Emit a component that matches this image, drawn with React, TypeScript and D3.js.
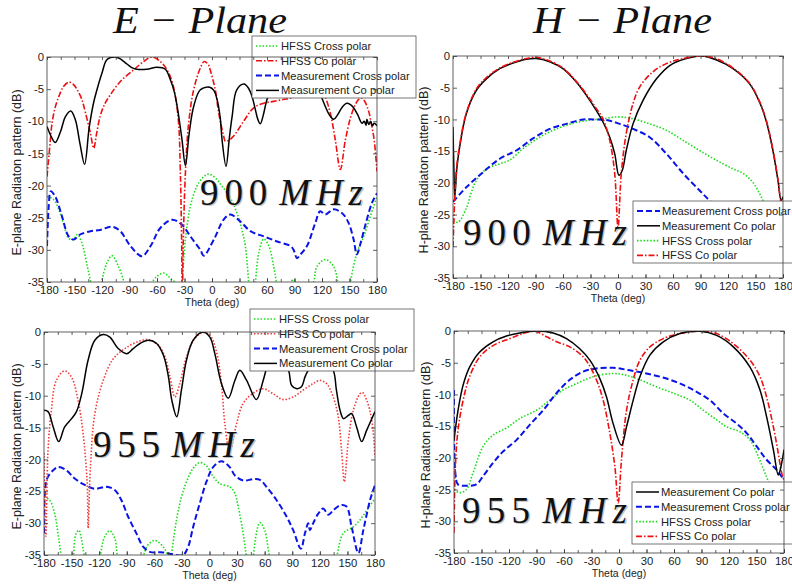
import React, { useEffect, useRef } from "react";
import * as d3 from "d3";

type Pt = [number, number];

const thetaTicks = d3.range(-180, 181, 30);
const thetaMinor = d3.range(-180, 181, 15);
const dbTicks = [0, -5, -10, -15, -20, -25, -30, -35];

// E-plane, 900 MHz
const e900HfssCross: Pt[] = [
  [-180, -21.7], [-172.7, -22.2], [-165.5, -24.3], [-160, -26.9], [-156.4, -28.2], [-151, -28.4],
  [-147, -27.6], [-142, -28.9], [-136, -32.6], [-131, -36], [-127, -40], [-122, -36], [-118, -33.5],
  [-114.5, -32], [-109, -30.9], [-102, -32.6], [-97, -34.5], [-94.5, -36], [-80, -40], [-67, -35.5],
  [-60, -34.1], [-52.7, -33.6], [-45.5, -34.4], [-38, -35.5], [-35, -38], [-32.7, -35], [-29, -28.4],
  [-23.6, -23.2], [-16.4, -20.1], [-9, -18.6], [-3.6, -18.2], [3.6, -18.8], [11, -20.1], [20, -21.9],
  [27.3, -24.3], [32.7, -26.9], [36.4, -29.4], [40, -35], [43, -40], [47.3, -35], [51, -30.5],
  [56.4, -28.3], [62, -29.4], [67.3, -32.6], [71, -35.5], [78, -40], [85.5, -35.2], [89, -34.6],
  [92, -35.5], [100, -40], [111, -35], [114.5, -32.6], [123.6, -31.5], [132.7, -32.6], [138, -35.5],
  [145, -40], [151, -35], [158, -30.5], [165.5, -27.9], [172.7, -24.8], [180, -21.7],
];
const e900HfssCo: Pt[] = [
  [-180, -18.6], [-177, -14], [-174.5, -10.3], [-171, -7.8], [-167, -6.1], [-162, -4.6], [-156, -3.9],
  [-151, -4.3], [-147, -5.1], [-142, -6.6], [-138, -8.7], [-132.7, -11.8], [-129, -14.2], [-126, -12],
  [-122, -9.2], [-117, -7.3], [-111, -5.9], [-100, -3.8], [-85.5, -2], [-74.5, -0.7], [-65.5, 0],
  [-56.4, -0.7], [-49, -2], [-43.6, -3.8], [-40, -6.1], [-36.4, -10.3], [-34.5, -18], [-33, -30],
  [-32.5, -40], [-31.5, -30], [-29, -18], [-25.5, -10.3], [-20, -5.1], [-12.7, -1.7], [-8.4, -0.7],
  [-4, -1.2], [-2, -2], [3.6, -5.1], [7.3, -8.7], [12.7, -12.3], [14.5, -13.1], [18, -13], [23.6, -12.3],
  [34.5, -10], [45.5, -7.9], [56.4, -7.2], [67.3, -6.9], [78, -6.6], [85.5, -6.4], [96, -5.5], [105, -4.5],
  [115, -4.5], [122, -5.75], [129, -8.7], [134.5, -12.9], [140, -17.5], [145.5, -12.9], [151, -9.5],
  [156, -7.5], [160, -6.6], [163.6, -6.4], [167, -7], [171, -8.5], [174, -10.5], [177, -13], [180, -17.8],
];
const e900MeasCross: Pt[] = [
  [-180, -29.4], [-178, -23], [-176, -20.9], [-171, -21.7], [-163.6, -24.8], [-156.4, -27.9], [-151, -28.4],
  [-143.6, -27.6], [-132.7, -27.1], [-122, -26.9], [-109, -26.4], [-100, -27.1], [-89, -29.4], [-76.4, -31],
  [-67, -29.4], [-56.4, -26.6], [-43.6, -25.3], [-32.7, -26.1], [-23.6, -27.9], [-12.7, -30], [-9, -30.9],
  [2, -28.4], [12.7, -25.3], [20, -24.5], [31, -25.6], [42, -27.1], [56.4, -27.9], [71, -28.7], [85.5, -29.4],
  [89, -30], [92.7, -31.3], [96, -30.8], [103.6, -29.4], [112.7, -25.8], [118, -24], [123.6, -24.5],
  [132.7, -23.7], [142, -24.3], [149, -25.8], [154.5, -28.4], [158, -30.7], [162, -29], [167, -26.3],
  [174.5, -22.7], [180, -21.2],
];
const e900MeasCo: Pt[] = [
  [-180, -10.8], [-175, -12.5], [-171, -13.3], [-165, -11.5], [-160, -9.3], [-154, -8.4], [-149, -9.8],
  [-144, -13.5], [-139, -16.7], [-134, -11], [-129, -7], [-125.5, -5.1], [-120, -2.5], [-114.5, -0.4],
  [-105.5, 0], [-100, -0.3], [-94.5, -0.9], [-88, -1.6], [-82, -1.9], [-71, -1.9], [-60, -1.6], [-51, -1.9],
  [-45.5, -3.5], [-41, -5.5], [-38, -7.7], [-35, -10.5], [-32.7, -12.9], [-29, -16.9], [-25, -12], [-20, -7.7],
  [-12.7, -5.1], [-2.5, -4.7], [2, -5.2], [5.5, -6.6], [9, -9.5], [11, -12.9], [15.3, -17], [19, -12.5],
  [22, -9.2], [27, -5.1], [35, -4.2], [40, -4.9], [43.6, -6.1], [47, -8], [50, -9.7], [52.7, -10.4], [56, -9],
  [60, -6.6], [65, -5], [75, -3], [90, -1.5], [105, -2], [112, -3.5], [118, -5.7], [123.6, -7.7], [128, -9],
  [132.7, -9.7], [137, -9], [142, -7.8], [147, -7.2], [151, -7.4], [154.5, -7.9], [159, -9], [163.6, -10.3],
  [166, -10], [168, -10.6], [169, -9.7], [171, -10.5], [173, -10], [175, -10.7], [177, -10.3], [180, -10.7],
];

// H-plane, 900 MHz
const h900MeasCross: Pt[] = [
  [-180, -23], [-165.5, -20.7], [-147, -18.3], [-129, -16.2], [-111, -14.9], [-92.7, -13], [-74.5, -11.5],
  [-56.4, -10.7], [-38, -10], [-27.3, -10], [-12.7, -10.1], [1.8, -10.7], [16.4, -11.5], [34.5, -12.8],
  [52.7, -15.4], [71, -18.5], [89, -21.2], [100, -22.8], [120, -25.5], [150, -28.5], [180, -31],
];
const h900MeasCo: Pt[] = [
  [-180, -11.2], [-179, -18], [-178, -22.2], [-176, -18], [-172.7, -14.3], [-165.5, -9.1], [-154.5, -5.4],
  [-143.6, -3.6], [-129, -2], [-114.5, -1.1], [-100, -0.5], [-89, -0.4], [-74.5, -0.9], [-60, -2],
  [-45.5, -4.1], [-34.5, -6.2], [-23.6, -8.6], [-16.4, -10.4], [-9, -12.8], [-3.6, -15.4], [1, -18.8],
  [4.7, -18], [9, -14.9], [16.4, -10.7], [27.3, -7], [42, -3.6], [56.4, -1.5], [74.5, -0.4], [91, 0],
  [107, -0.6], [125.5, -2], [143.6, -4.4], [154.5, -7.3], [162, -10.4], [169, -14.9], [174.5, -19.6],
  [178, -22.8], [180, -22.2],
];
const h900HfssCross: Pt[] = [
  [-180, -26], [-174.5, -26.2], [-165.5, -24], [-160, -21.5], [-154.5, -19.6], [-143.6, -17.8], [-129, -17],
  [-118, -16.4], [-103.6, -14.6], [-85.5, -12.8], [-67.3, -11.5], [-49, -10.6], [-31, -10.1], [-16.4, -9.9],
  [0, -9.6], [16.4, -9.9], [34.5, -10.7], [52.7, -11.7], [71, -13.3], [89, -14.9], [107, -16.4],
  [125.5, -17.8], [136.4, -18.5], [147, -19.9], [154.5, -21.7], [160, -23.3], [170, -26], [180, -28],
];
const h900HfssCo: Pt[] = [
  [-180, -30.1], [-178, -22.2], [-176, -17.5], [-172.7, -14], [-165.5, -9], [-154.5, -5.2], [-143.6, -3.4],
  [-129, -1.9], [-114.5, -1], [-100, -0.4], [-89, -0.2], [-74.5, -0.8], [-60, -1.9], [-45.5, -4], [-34.5, -6],
  [-23.6, -8.3], [-16.4, -9.9], [-9, -13.3], [-3.6, -18.5], [0, -27], [3.6, -18.5], [9, -12.2], [16.4, -7.5],
  [23.6, -4.9], [38, -2.5], [52.7, -1.2], [70.9, -0.4], [91, 0], [107, -0.4], [125.5, -1.9], [143.6, -4.3],
  [154.5, -7.2], [162, -10.3], [169, -14.8], [174.5, -19.5], [177, -22.5], [180, -25],
];

// E-plane, 955 MHz
const e955HfssCross: Pt[] = [
  [-180, -25.9], [-173.8, -26.4], [-168.4, -28.5], [-164.8, -31.6], [-161, -35.5], [-155, -40],
  [-148.4, -35.5], [-145.5, -31.8], [-142, -31.1], [-139.4, -32.4], [-135.7, -35.5], [-128, -40],
  [-119.4, -35.5], [-114, -32.1], [-108.5, -31.2], [-103, -32.4], [-99.4, -35.5], [-85, -40], [-72.2, -35.2],
  [-66.8, -33.4], [-59.5, -32.7], [-50.5, -33.7], [-45, -35.2], [-43, -37], [-41.4, -35], [-35.9, -29.5],
  [-30.5, -25.9], [-25, -23.5], [-17.8, -21.4], [-10.6, -20.5], [-3.3, -21], [4, -22.7], [11.2, -23.8],
  [22, -24.3], [27.5, -25.3], [31.2, -27.4], [36.6, -31.6], [40.3, -35.5], [44, -40], [47.5, -35.5],
  [51, -31.6], [54.8, -29.9], [60, -31.1], [65.7, -35.5], [75, -40], [130, -40], [138, -35.5],
  [145.5, -31.6], [156.4, -30.6], [163.6, -29.5], [171, -28], [180, -26.1],
];
const e955HfssCo: Pt[] = [
  [-180, -19], [-178, -32.1], [-175.6, -18.5], [-172, -12.3], [-166.6, -7.6], [-157.5, -6.1], [-150, -7.1],
  [-143, -10.7], [-137.5, -15.9], [-133, -23.8], [-132, -30.8], [-129.5, -21.2], [-124.7, -12.8],
  [-115.6, -7.6], [-104.6, -4.2], [-90, -2.4], [-75.6, -1.4], [-66.5, -1.2], [-55.6, -2.1], [-48.4, -3.9],
  [-43, -7], [-37.7, -10.2], [-32.3, -8.1], [-25, -3.9], [-16, -1], [-7, -0.1], [0.4, -0.5], [7.6, -3.1],
  [13, -8.1], [16.7, -14.4], [22, -18.8], [29.4, -14.4], [36.6, -11.2], [47.5, -9.6], [58.4, -8.9],
  [69.3, -9.7], [80, -10.6], [91, -10.2], [102, -9.1], [112.8, -8.1], [120, -7.6], [127.3, -8.1],
  [134.6, -10.2], [140, -13.3], [143.6, -18.5], [146.6, -23.5], [151, -17], [156.4, -12.3], [163.6, -9.7],
  [166.5, -9.5], [171, -10.7], [176.5, -13.8], [180, -19.6],
];
const e955MeasCross: Pt[] = [
  [-180, -31.6], [-178.5, -24.3], [-175.6, -22.7], [-170, -21.7], [-164.8, -21.2], [-155.7, -21.7],
  [-146.6, -23], [-135.7, -24], [-124.7, -24.6], [-112, -24.3], [-103, -24.8], [-95.8, -26.4], [-88.5, -29],
  [-79.5, -31.6], [-72.2, -33.7], [-65, -34.5], [-50.5, -34.6], [-39.6, -34.9], [-28.7, -35], [-23.2, -33.7],
  [-17.8, -30.6], [-10.6, -26.9], [-3.3, -23.5], [4, -21.2], [13, -20.3], [22, -21.2], [27.5, -22.5],
  [36.6, -23.3], [47.5, -23.1], [54.8, -23.2], [62, -24.3], [73, -26.4], [84, -29], [91, -31.1], [99.4, -34],
  [103.8, -31.6], [107.4, -30], [109.2, -31.1], [112.8, -30], [118.3, -28.5], [123.7, -27.7], [129.2, -28.7],
  [134.6, -28], [142, -27.2], [149, -27.4], [154.6, -30.6], [161.9, -34.7], [167.3, -31.1], [174.6, -26.4],
  [180, -24],
];
const e955MeasCo: Pt[] = [
  [-180, -12.3], [-175.6, -12.5], [-170, -14.9], [-164, -17.2], [-157.5, -14.9], [-150, -13.6],
  [-144.7, -12.5], [-139, -9.7], [-132, -4.4], [-124.7, -1.3], [-115.6, -0.4], [-108.4, -0.8], [-99.3, -2.6],
  [-90, -3.4], [-83, -2.6], [-75.6, -1.8], [-66.5, -1.3], [-57.5, -1.8], [-50, -3.7], [-44.7, -7],
  [-41, -10.7], [-35.6, -13.3], [-30.5, -9.1], [-25, -4.4], [-17.8, -1.3], [-7, 0], [0.4, -0.8], [5.8, -3.4],
  [13, -8.1], [20.4, -10.4], [27.6, -7.6], [33, -6], [40.4, -7.6], [51, -10.6], [58.4, -7.6], [64, -5],
  [75, -3], [86, -6], [89.4, -8.4], [95, -8.9], [100, -8.6], [104, -7], [107.4, -6], [120, -3], [134.6, -6],
  [138, -9.1], [142, -12.3], [145.7, -13.6], [151, -13.1], [154.5, -12.8], [160, -14.9], [165.5, -17.2],
  [171, -15.4], [180, -12.5],
];

// H-plane, 955 MHz
const h955MeasCo: Pt[] = [
  [-180, -17.2], [-175.6, -12.5], [-170, -8.5], [-163, -5.7], [-152, -3.3], [-137.4, -1.7], [-122.8, -0.8],
  [-108.3, -0.3], [-90, 0], [-71.8, -0.3], [-57.3, -1.2], [-42.8, -2.8], [-31.8, -4.6], [-20.9, -7.5],
  [-13.6, -10.4], [-6.4, -14.6], [2.7, -18], [8.2, -15.1], [15.5, -10.9], [22.8, -7.2], [33.7, -3.8],
  [48.3, -1.7], [66.5, -0.4], [88.3, -0.05], [106.5, -0.7], [124.7, -2.5], [142.9, -5.7], [153.8, -9.3],
  [161, -13.5], [168.4, -18.7], [173.8, -22.7], [177.5, -20.8], [180, -18.7],
];
const h955MeasCross: Pt[] = [
  [-180, -9.3], [-178.5, -22.4], [-175.6, -24.2], [-166.5, -24.4], [-155.6, -24.2], [-148.3, -22.9],
  [-137.4, -20.8], [-126.5, -19], [-112, -17.2], [-97.4, -14.8], [-82.8, -12.5], [-68.2, -9.8],
  [-53.7, -7.7], [-39.1, -6.4], [-24.6, -5.9], [-6.4, -5.8], [11.8, -6.2], [30, -6.7], [51.9, -7.5],
  [70, -8.5], [84.7, -9.6], [99.2, -10.9], [113.8, -13], [128.3, -14.6], [139.3, -16.1], [150.2, -18.2],
  [161, -20.3], [172, -21.9], [180, -23.5],
];
const h955HfssCross: Pt[] = [
  [-180, -25], [-173.8, -25.5], [-166.5, -25], [-159.3, -22.4], [-148.3, -18.2], [-137.4, -16.4],
  [-122.8, -15.3], [-108.3, -13.8], [-90, -12.5], [-75.5, -10.9], [-61, -9.3], [-46.4, -8.3], [-28.2, -7.2],
  [-6.4, -6.7], [8.2, -7], [22.8, -7.7], [41, -8.8], [59.2, -9.8], [77.4, -10.9], [92, -12.5], [106.5, -14],
  [117.4, -15.1], [132, -15.9], [143, -17.2], [152, -19.8], [159.3, -22.4], [170, -26], [180, -28],
];
const h955HfssCo: Pt[] = [
  [-180, -31.8], [-178.5, -21.4], [-175.6, -15.6], [-170, -10.9], [-163, -7.2], [-152, -4.1], [-137.4, -2.3],
  [-119.2, -1.2], [-104.6, -0.4], [-92, -0.05], [-79, -0.9], [-68, -1.7], [-53.7, -2.5], [-41, -3.8],
  [-33.7, -5.1], [-24.6, -7.7], [-17.3, -10.9], [-10, -16.1], [-4.5, -21.4], [-0.9, -27.1], [2.7, -20.3],
  [8.2, -12.5], [15.5, -7.7], [22.8, -4.6], [33.7, -2.5], [48.3, -1.2], [66.5, -0.4], [92, 0], [106.5, -0.4],
  [124.7, -2], [142.9, -4.6], [153.8, -7.2], [161, -10.4], [168.4, -15.1], [173.8, -19.3], [177.5, -22.4],
  [180, -23.5],
];

const styles: Record<string, { color: string; dash: string | null; width: number }> = {
  measCo: { color: "#000000", dash: null, width: 1.5 },
  measCross: { color: "#0a14e6", dash: "6,3", width: 2 },
  hfssCross: { color: "#19dd19", dash: "1.5,1.8", width: 1.6 },
  hfssCoDashDot: { color: "#ee1010", dash: "6,2,1.5,2", width: 1.6 },
  hfssCoDot: { color: "#f23a3a", dash: "1.5,1.8", width: 1.6 },
};

const labels: Record<string, string> = {
  measCo: "Measurement Co polar",
  measCross: "Measurement Cross polar",
  hfssCross: "HFSS Cross polar",
  hfssCoDashDot: "HFSS Co polar",
  hfssCoDot: "HFSS Co polar",
};

type Panel = {
  id: string;
  x0: number; x1: number; y0: number; y1: number;
  yLabel: string; yLabelX: number;
  freq: string; freqX: number; freqY: number; freqW: number;
  legend: { x: number; y: number; w: number; keys: string[] };
  series: { key: string; data: Pt[] }[];
};

const panels: Panel[] = [
  {
    id: "e900", x0: 47, x1: 377, y0: 57, y1: 282,
    yLabel: "E-plane Radiaton pattern (dB)", yLabelX: 21,
    freq: "900", freqX: 200, freqY: 205, freqW: 163,
    legend: { x: 252, y: 36, w: 164, keys: ["hfssCross", "hfssCoDashDot", "measCross", "measCo"] },
    series: [
      { key: "hfssCross", data: e900HfssCross },
      { key: "measCross", data: e900MeasCross },
      { key: "hfssCoDashDot", data: e900HfssCo },
      { key: "measCo", data: e900MeasCo },
    ],
  },
  {
    id: "h900", x0: 453, x1: 783, y0: 56, y1: 278,
    yLabel: "H-plane Radiaton pattern (dB)", yLabelX: 428,
    freq: "900", freqX: 463, freqY: 245, freqW: 164,
    legend: { x: 633, y: 201, w: 170, keys: ["measCross", "measCo", "hfssCross", "hfssCoDashDot"] },
    series: [
      { key: "hfssCross", data: h900HfssCross },
      { key: "measCross", data: h900MeasCross },
      { key: "measCo", data: h900MeasCo },
      { key: "hfssCoDashDot", data: h900HfssCo },
    ],
  },
  {
    id: "e955", x0: 44, x1: 375, y0: 332, y1: 555,
    yLabel: "E-plane Radiaton pattern (dB)", yLabelX: 21,
    freq: "955", freqX: 93, freqY: 457, freqW: 162,
    legend: { x: 250, y: 309, w: 164, keys: ["hfssCross", "hfssCoDot", "measCross", "measCo"] },
    series: [
      { key: "hfssCross", data: e955HfssCross },
      { key: "measCross", data: e955MeasCross },
      { key: "hfssCoDot", data: e955HfssCo },
      { key: "measCo", data: e955MeasCo },
    ],
  },
  {
    id: "h955", x0: 454, x1: 784, y0: 331, y1: 553,
    yLabel: "H-plane Radiaton pattern (dB)", yLabelX: 430,
    freq: "955", freqX: 462, freqY: 523, freqW: 165,
    legend: { x: 632, y: 482, w: 170, keys: ["measCo", "measCross", "hfssCross", "hfssCoDashDot"] },
    series: [
      { key: "hfssCross", data: h955HfssCross },
      { key: "measCross", data: h955MeasCross },
      { key: "hfssCoDashDot", data: h955HfssCo },
      { key: "measCo", data: h955MeasCo },
    ],
  },
];

const SANS = "'Liberation Sans', Arial, sans-serif";
const SERIF = "'Liberation Serif', 'Times New Roman', serif";

function drawPanel(svg: d3.Selection<SVGSVGElement, unknown, null, undefined>, p: Panel) {
  const x = d3.scaleLinear().domain([-180, 180]).range([p.x0, p.x1]);
  const y = d3.scaleLinear().domain([-35, 0]).range([p.y1, p.y0]);
  const g = svg.append("g");

  const clipId = `clip-${p.id}`;
  g.append("clipPath").attr("id", clipId).append("rect")
    .attr("x", p.x0).attr("y", p.y0).attr("width", p.x1 - p.x0).attr("height", p.y1 - p.y0);

  const line = d3.line<Pt>()
    .x((d) => x(d[0]))
    .y((d) => y(d[1]))
    .curve(d3.curveCatmullRom.alpha(0.5));

  // curves
  const curves = g.append("g").attr("clip-path", `url(#${clipId})`);
  p.series.forEach((s) => {
    const st = styles[s.key];
    curves.append("path")
      .attr("d", line(s.data))
      .attr("fill", "none")
      .attr("stroke", st.color)
      .attr("stroke-width", st.width)
      .attr("stroke-dasharray", st.dash)
      .attr("stroke-linejoin", "round");
  });

  // frequency label (digits upright, unit italic, soft shadow)
  const fx = p.freqX, fy = p.freqY;
  [[1.3, 1.3, "#c4c4c4"], [0, 0, "#111"]].forEach(([dx, dy, c]) => {
    const t = g.append("text")
      .attr("x", fx + (dx as number)).attr("y", fy + (dy as number))
      .attr("font-family", SERIF).attr("font-size", 37)
      .attr("fill", c as string)
      .attr("textLength", p.freqW).attr("lengthAdjust", "spacing");
    t.append("tspan").text(p.freq);
    t.append("tspan").attr("font-style", "italic").attr("dx", 6).text("MHz");
  });

  // legend
  const lg = g.append("g");
  lg.append("rect")
    .attr("x", p.legend.x).attr("y", p.legend.y).attr("width", p.legend.w).attr("height", 62)
    .attr("fill", "#fff").attr("stroke", "#555").attr("stroke-width", 0.8);
  p.legend.keys.forEach((k, i) => {
    const st = styles[k];
    const ly = p.legend.y + 10 + i * 14.8;
    lg.append("line")
      .attr("x1", p.legend.x + 4).attr("x2", p.legend.x + 27).attr("y1", ly).attr("y2", ly)
      .attr("stroke", st.color).attr("stroke-width", st.width).attr("stroke-dasharray", st.dash);
    lg.append("text")
      .attr("x", p.legend.x + 29).attr("y", ly + 4)
      .attr("font-family", SANS).attr("font-size", 11.2).attr("fill", "#222")
      .text(labels[k]);
  });

  // frame and ticks
  g.append("rect")
    .attr("x", p.x0).attr("y", p.y0).attr("width", p.x1 - p.x0).attr("height", p.y1 - p.y0)
    .attr("fill", "none").attr("stroke", "#3a3a3a").attr("stroke-width", 0.8);

  const axes: d3.Selection<SVGGElement, unknown, null, undefined>[] = [];
  axes.push(g.append("g").attr("transform", `translate(0,${p.y1})`)
    .call(d3.axisBottom(x).tickValues(thetaTicks).tickSizeInner(-4).tickSizeOuter(0).tickPadding(4).tickFormat((d) => `${d}`)));
  axes.push(g.append("g").attr("transform", `translate(0,${p.y1})`)
    .call(d3.axisBottom(x).tickValues(thetaMinor).tickSizeInner(-3).tickSizeOuter(0).tickFormat(() => "")));
  axes.push(g.append("g").attr("transform", `translate(0,${p.y0})`)
    .call(d3.axisTop(x).tickValues(thetaMinor).tickSizeInner(-3).tickSizeOuter(0).tickFormat(() => "")));
  axes.push(g.append("g").attr("transform", `translate(${p.x0},0)`)
    .call(d3.axisLeft(y).tickValues(dbTicks).tickSizeInner(-4).tickSizeOuter(0).tickPadding(3).tickFormat((d) => `${d}`)));
  axes.push(g.append("g").attr("transform", `translate(${p.x1},0)`)
    .call(d3.axisRight(y).tickValues(dbTicks).tickSizeInner(-4).tickSizeOuter(0).tickFormat(() => "")));
  axes.forEach((a) => {
    a.attr("font-family", SANS).attr("font-size", 11.3);
    a.select(".domain").remove();
    a.selectAll("line").attr("stroke", "#3a3a3a").attr("stroke-width", 0.8);
    a.selectAll("text").attr("fill", "#222");
  });

  // axis labels
  g.append("text")
    .attr("x", (p.x0 + p.x1) / 2).attr("y", p.y1 + 24)
    .attr("text-anchor", "middle").attr("font-family", SANS).attr("font-size", 10.5).attr("fill", "#222")
    .text("Theta (deg)");
  g.append("text")
    .attr("transform", `translate(${p.yLabelX},${(p.y0 + p.y1) / 2 + 3}) rotate(-90)`)
    .attr("text-anchor", "middle").attr("font-family", SANS).attr("font-size", 12.5).attr("fill", "#222")
    .text(p.yLabel);
}

const titles = [
  { text: "E \u2212 Plane", x: 113, w: 174 },
  { text: "H \u2212 Plane", x: 533, w: 179 },
];

const App = () => {
  const svgRef = useRef<SVGSVGElement>(null);

  useEffect(() => {
    const svg = d3.select(svgRef.current as SVGSVGElement);
    svg.selectAll("*").remove();
    svg.append("rect").attr("width", 792).attr("height", 586).attr("fill", "#fff");

    titles.forEach((t) => {
      svg.append("text")
        .attr("x", t.x).attr("y", 33)
        .attr("font-family", SERIF).attr("font-style", "italic").attr("font-size", 38)
        .attr("fill", "#111")
        .attr("textLength", t.w).attr("lengthAdjust", "spacingAndGlyphs")
        .text(t.text);
    });

    panels.forEach((p) => drawPanel(svg, p));
  }, []);

  return (
    <svg
      ref={svgRef}
      width={792}
      height={586}
      style={{ position: "absolute", left: 0, top: 0 }}
    ></svg>
  );
};

export default App;
